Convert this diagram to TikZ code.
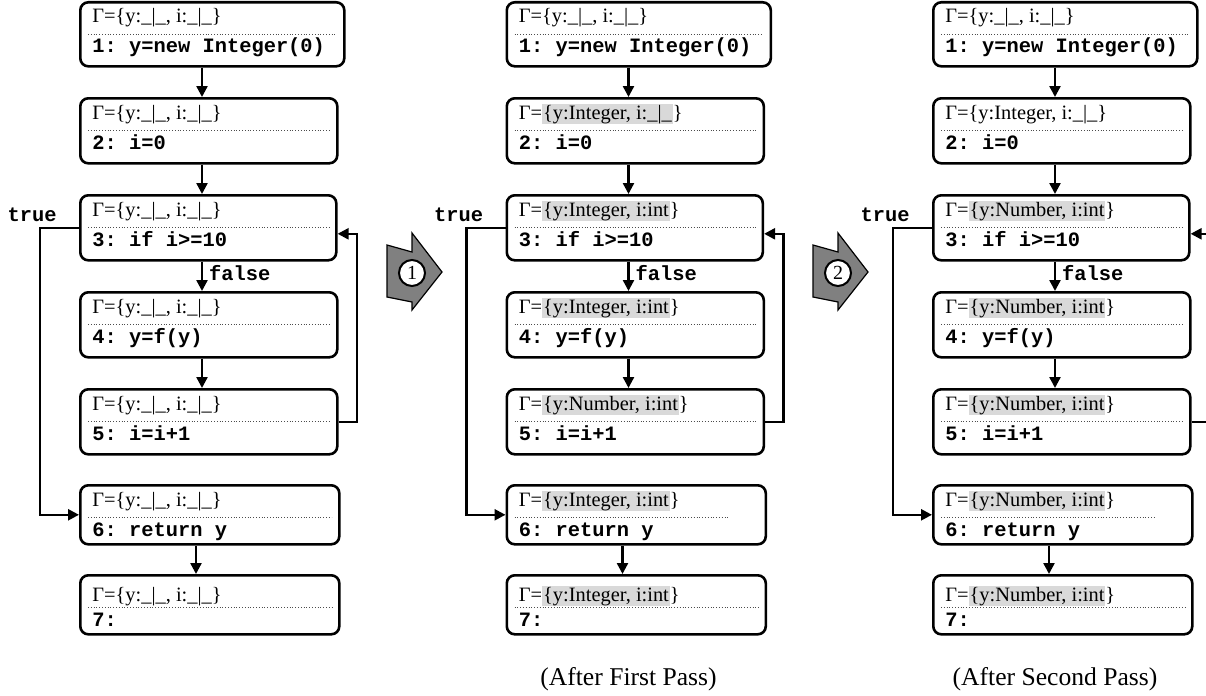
\documentclass[tikz,border=0pt]{standalone}
\usepackage{fontspec}
\setmainfont{Liberation Serif}
\setmonofont{Liberation Mono}
\usetikzlibrary{arrows.meta,calc,positioning}
\definecolor{hlgray}{RGB}{217,217,217}
\definecolor{passgray}{RGB}{128,128,128}
\newcommand{\unk}{\_|\_}
\newcommand{\hl}[1]{{\setlength{\fboxsep}{0.5pt}\colorbox{hlgray}{#1}}}
\tikzset{
 cfgnode/.style={draw, line width=1.3pt, rounded corners=4pt, inner sep=0pt},
 envtext/.style={inner sep=0pt, font=\fontsize{10.2}{12}\selectfont},
 codetext/.style={inner sep=0pt, font=\fontsize{10.2}{12}\selectfont\ttfamily\bfseries},
 seprule/.style={line width=0.5pt, black!70, dash pattern=on 0.5pt off 0.9pt},
 flow/.style={line width=1.2pt, -{Triangle[length=5.5pt,width=5.5pt]}},
 lbl/.style={inner sep=0pt, font=\fontsize{10.2}{12}\selectfont\ttfamily\bfseries},
 passarrow/.style={fill=passgray, draw=black, line width=0.6pt},
 passnum/.style={circle, draw, fill=white, line width=1pt, minimum size=13pt, inner sep=0pt, font=\fontsize{10}{12}\selectfont},
 caption/.style={inner sep=0pt, font=\fontsize{12.8}{15}\selectfont},
}

% [env offset] name, x, y, width, height, env, code, rule gap
\newcommand{\cfgbox}[9][22]{%
  \node[cfgnode, anchor=north west, minimum width=#5*0.5pt, minimum height=#6*0.5pt] (#2) at (#3,#4) {};
  \node[envtext, anchor=base west] (#2env) at ($(#2.north west)+(13,#1)$) {#7};
  \draw[seprule] ($(#2.north west)+(9,33)$) -- ($(#2.north east)+(-#9,33)$);
  \node[codetext, anchor=base west] (#2code) at ($(#2.north west)+(13,52)$) {#8};
}

% panel number, envs of boxes 2..7, caption
\newcommand{\cfgpanel}[8]{%
  \pgfmathsetmacro\panoff{(#1-1)*426.5}
  \pgfmathsetmacro\dotgap{#1==1 ? 9 : 38}
  \cfgbox{p#1b1}{79+\panoff}{1}{264}{64}{Γ=\{y:\unk, i:\unk\}}{1: y=new Integer(0)}{9}
  \cfgbox{p#1b2}{79+\panoff}{97}{257}{65}{#2}{2: i=0}{8}
  \cfgbox{p#1b3}{79+\panoff}{194}{256}{65}{#3}{3: if i>=10}{8}
  \cfgbox{p#1b4}{79+\panoff}{291}{257}{65}{#4}{4: y=f(y)}{8}
  \cfgbox{p#1b5}{79+\panoff}{388}{257}{65}{#5}{5: i=i+1}{8}
  \cfgbox{p#1b6}{79+\panoff}{484}{259}{59}{#6}{6: return y}{\dotgap}
  \cfgbox[27]{p#1b7}{79+\panoff}{574}{259}{59}{#7}{7:}{8}
  \coordinate (p#1ax) at (202+\panoff,0);
  \coordinate (p#1ay) at (196+\panoff,0);
  \coordinate (p#1tl) at (40+\panoff,0);
  \coordinate (p#1bx) at (357+\panoff,0);
  \foreach \i/\j in {1/2,2/3,4/5}
    \draw[flow] (p#1b\i.south -| p#1ax) -- (p#1b\j.north -| p#1ax);
  \draw[flow] (p#1b3.south -| p#1ax) -- node[lbl, right=3pt, yshift=1.5pt] (p#1false) {false} (p#1b4.north -| p#1ax);
  \draw[flow] (p#1b6.south -| p#1ay) -- (p#1b7.north -| p#1ay);
  % true branch and back edge
  \draw[flow] (p#1b3.west) -- (p#1b3.west -| p#1tl) |- (p#1b6.west);
  \node[lbl, anchor=base east] (p#1true) at ($(p#1b3.north west)+(-22,27)$) {true};
  \draw[flow] (p#1b5.east) -- (p#1b5.east -| p#1bx) |- ([yshift=-3pt]p#1b3.east);
  \node[caption, anchor=base] (p#1cap) at ($(p#1b7.south -| p#1ax)+(0,50)$) {#8};
}

\begin{document}
\begin{tikzpicture}[x=0.5pt, y=-0.5pt]
  \useasboundingbox (0,0) rectangle (1206,696);

  \cfgpanel{1}{Γ=\{y:\unk, i:\unk\}}{Γ=\{y:\unk, i:\unk\}}{Γ=\{y:\unk, i:\unk\}}%
    {Γ=\{y:\unk, i:\unk\}}{Γ=\{y:\unk, i:\unk\}}{Γ=\{y:\unk, i:\unk\}}{}
  \cfgpanel{2}{Γ=\hl{\{y:Integer, i:\unk}\}}{Γ=\hl{\{y:Integer, i:int}\}}{Γ=\hl{\{y:Integer, i:int}\}}%
    {Γ=\hl{\{y:Number, i:int}\}}{Γ=\hl{\{y:Integer, i:int}\}}{Γ=\hl{\{y:Integer, i:int}\}}{(After First Pass)}
  \cfgpanel{3}{Γ=\{y:Integer, i:\unk\}}{Γ=\hl{\{y:Number, i:int}\}}{Γ=\hl{\{y:Number, i:int}\}}%
    {Γ=\hl{\{y:Number, i:int}\}}{Γ=\hl{\{y:Number, i:int}\}}{Γ=\hl{\{y:Number, i:int}\}}{(After Second Pass)}

  % pass arrows between the panels
  \foreach \k in {1,2} {
    \begin{scope}[xshift={(\k-1)*213pt}]
      \draw[passarrow] (387,245) -- (412,252) -- (412,233) -- (442,272) -- (412,310) -- (412,302) -- (387,297) -- cycle;
      \node[passnum] (pass\k) at (412,273) {\k};
    \end{scope}
  }
\end{tikzpicture}
\end{document}
